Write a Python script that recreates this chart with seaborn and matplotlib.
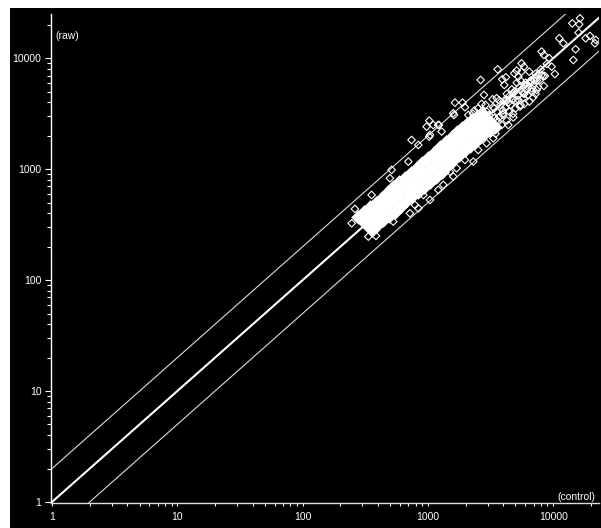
import matplotlib
matplotlib.use("Agg")
import matplotlib.pyplot as plt
import numpy as np
import seaborn as sns
from matplotlib.patches import Rectangle
from matplotlib.ticker import LogLocator, NullFormatter

# values, as log10(signal)
# sparse points, drawn as open diamonds
control_log = [
    4.214, 4.153, 4.208, 4.203, 4.341, 4.294, 4.259, 4.333, 4.179, 4.161, 4.049, 4.081,
    3.908, 3.926, 3.969, 3.988, 4.014, 3.748, 3.767, 3.708, 3.690, 3.748, 3.809, 3.557,
    3.421, 3.623, 3.594, 3.610, 3.722, 3.908, 3.934, 3.894, 3.926, 3.868, 3.841, 3.448,
    3.216, 3.277, 3.296, 3.517, 3.429, 3.549, 3.371, 3.323, 3.208, 3.011, 2.990, 3.043,
    3.089, 3.011, 2.870, 3.642, 3.682, 3.602, 3.735, 3.775, 3.815, 3.868, 3.828, 3.762,
    3.682, 3.629, 3.722,
    2.418, 2.392, 2.525, 2.586, 2.711, 2.697, 2.551, 2.844, 2.924, 3.083, 3.017, 3.110,
    3.203, 3.363, 3.230, 3.203, 3.123, 3.017, 2.924, 2.857, 2.724, 3.522, 3.402, 3.296,
    3.469, 2.964, 3.083, 2.897, 3.176, 3.256, 3.416, 3.549, 3.323,
    3.42, 3.45, 3.47, 3.50, 3.52, 3.53, 3.55, 3.57, 3.58, 3.60, 3.61, 3.62, 3.64, 3.65,
    3.66, 3.68, 3.69, 3.70, 3.72, 3.73, 3.75, 3.76, 3.78, 3.79, 3.80, 3.82, 3.84, 3.86,
    3.87, 3.90, 3.92, 3.95,
    3.36, 3.38, 3.40, 3.43, 3.44, 3.46, 3.48, 3.49, 3.51, 3.53, 3.54, 3.56, 3.57, 3.59,
    3.60, 3.63, 3.63, 3.65, 3.67, 3.68, 3.70, 3.71, 3.74, 3.74, 3.77, 3.77, 3.80, 3.81,
    3.83, 3.85, 3.86, 3.88,
]
raw_log = [
    4.361, 4.316, 4.307, 4.232, 4.166, 4.202, 4.181, 4.136, 4.082, 3.985, 4.181, 4.136,
    4.061, 4.031, 4.001, 3.925, 3.859, 3.955, 3.925, 3.889, 3.865, 3.880, 3.880, 3.901,
    3.805, 3.829, 3.811, 3.760, 3.835, 3.850, 3.841, 3.805, 3.751, 3.715, 3.649, 3.670,
    3.601, 3.601, 3.559, 3.631, 3.589, 3.640, 3.529, 3.489, 3.489, 3.438, 3.384, 3.399,
    3.399, 3.294, 3.264, 3.399, 3.468, 3.505, 3.565, 3.760, 3.775, 3.820, 3.730, 3.685,
    3.685, 3.625, 3.625,
    2.642, 2.513, 2.393, 2.399, 2.994, 2.919, 2.768, 3.069, 3.219, 3.400, 3.310, 3.340,
    3.505, 3.069, 3.009, 2.934, 2.859, 2.723, 2.648, 2.603, 2.528, 3.279, 3.174, 3.084,
    3.234, 2.768, 2.814, 2.678, 2.979, 3.234, 3.325, 3.445, 3.355,
    3.50, 3.40, 3.52, 3.44, 3.56, 3.46, 3.52, 3.47, 3.58, 3.53, 3.62, 3.56, 3.60, 3.66,
    3.58, 3.63, 3.70, 3.62, 3.67, 3.74, 3.70, 3.64, 3.78, 3.72, 3.67, 3.80, 3.76, 3.86,
    3.80, 3.90, 3.84, 3.95,
    3.50, 3.42, 3.55, 3.30, 3.47, 3.58, 3.33, 3.49, 3.37, 3.55, 3.32, 3.43, 3.62, 3.40,
    3.49, 3.44, 3.68, 3.52, 3.72, 3.50, 3.55, 3.78, 3.58, 3.80, 3.68, 3.59, 3.74, 3.61,
    3.70, 3.80, 3.68, 3.74,
]
# the saturated core of the cloud, where the outlines merge into solid white
core_control_log = [
    2.498, 2.591, 2.684, 2.777, 2.870, 2.964, 3.057, 3.150, 3.243, 3.323, 3.402, 3.482,
    2.445, 2.538, 2.631, 2.724, 2.817, 2.911, 3.004, 3.097, 3.190, 3.270, 3.349, 3.429,
    2.551, 2.644, 2.737, 2.830, 2.923, 3.017, 3.110, 3.203, 3.296, 3.376, 3.455, 3.535,
    2.545, 2.638, 2.730, 2.823, 2.917, 3.010, 3.103, 3.197, 3.283, 3.362, 3.442,
    2.491, 2.584, 2.677, 2.770, 2.864, 2.957, 3.050, 3.143, 3.230, 3.309, 3.389,
    2.597, 2.690, 2.783, 2.876, 2.970, 3.063, 3.156, 3.249, 3.336, 3.415, 3.495,
]
core_raw_log = [
    2.513, 2.603, 2.678, 2.783, 2.859, 2.949, 3.039, 3.144, 3.234, 3.310, 3.385, 3.445,
    2.573, 2.663, 2.738, 2.843, 2.919, 3.009, 3.099, 3.204, 3.294, 3.370, 3.445, 3.505,
    2.453, 2.543, 2.618, 2.723, 2.799, 2.889, 2.979, 3.084, 3.174, 3.250, 3.325, 3.385,
    2.558, 2.640, 2.730, 2.821, 2.904, 2.994, 3.091, 3.189, 3.272, 3.347, 3.415,
    2.618, 2.700, 2.790, 2.881, 2.964, 3.054, 3.151, 3.249, 3.332, 3.407, 3.475,
    2.498, 2.580, 2.670, 2.761, 2.844, 2.934, 3.031, 3.129, 3.212, 3.287, 3.355,
]

line_x = [1, 30000]
center_y = [1, 30000]
upper_y = [2, 60000]
lower_y = [0.5, 15000]

tick_values = [1, 10, 100, 1000, 10000]
tick_labels = ["1", "10", "100", "1000", "10000"]

sns.set_theme(style="white")
plt.rcParams["font.family"] = ["Liberation Sans", "DejaVu Sans"]

W, H = 601, 528
fig = plt.figure(figsize=(W / 100, H / 100), dpi=100, facecolor="white")
fig.patches.append(Rectangle((10 / W, 0), (W - 10) / W, (H - 8) / H, zorder=-1,
                             transform=fig.transFigure, facecolor="black", edgecolor="none"))
ax = fig.add_axes([50.5 / W, (H - 502.5) / H, (599 - 50.5) / W, (502.5 - 14) / H])
ax.patch.set_alpha(0)

sns.lineplot(x=line_x, y=center_y, color="white", linewidth=1.5, estimator=None, ax=ax)
sns.lineplot(x=line_x, y=upper_y, color="#dddddd", linewidth=0.8, estimator=None, ax=ax)
sns.lineplot(x=line_x, y=lower_y, color="#dddddd", linewidth=0.8, estimator=None, ax=ax)

sns.scatterplot(x=10 ** np.array(control_log), y=10 ** np.array(raw_log), marker="D", s=15,
                facecolors="none", edgecolor="white", linewidth=0.8, ax=ax, zorder=3)
sns.scatterplot(x=10 ** np.array(core_control_log), y=10 ** np.array(core_raw_log), marker="D", s=55,
                color="white", edgecolor="white", linewidth=0, ax=ax, zorder=4)

ax.set_xscale("log")
ax.set_yscale("log")
ax.set_xlim(10 ** -0.012, 10 ** 4.366)
ax.set_ylim(10 ** -0.005, 10 ** 4.40)

ax.set_xticks(tick_values, tick_labels)
ax.set_yticks(tick_values, tick_labels)
for axis in (ax.xaxis, ax.yaxis):
    axis.set_minor_locator(LogLocator(base=10, subs=np.arange(2, 10), numticks=20))
    axis.set_minor_formatter(NullFormatter())
ax.tick_params(axis="x", which="both", bottom=True, colors="white", length=2.5, width=0.8, labelsize=7.5, pad=4)
ax.tick_params(axis="y", which="major", left=True, colors="white", length=4.5, width=0.8, labelsize=7.5, pad=2)
ax.tick_params(axis="y", which="minor", left=True, colors="white", length=3, width=0.8)

sns.despine(ax=ax)
ax.spines["left"].set_color("white")
ax.spines["bottom"].set_color("#dddddd")
ax.spines["left"].set_linewidth(1)
ax.spines["bottom"].set_linewidth(1)

ax.text(55 / W, (H - 36) / H, "(raw)", transform=fig.transFigure, color="white", fontsize=7.5,
        va="center", ha="left")
ax.text(557 / W, (H - 497) / H, "(control)", transform=fig.transFigure, color="white", fontsize=7.5,
        va="center", ha="left")

plt.savefig("out.png", dpi=100, facecolor="white")
